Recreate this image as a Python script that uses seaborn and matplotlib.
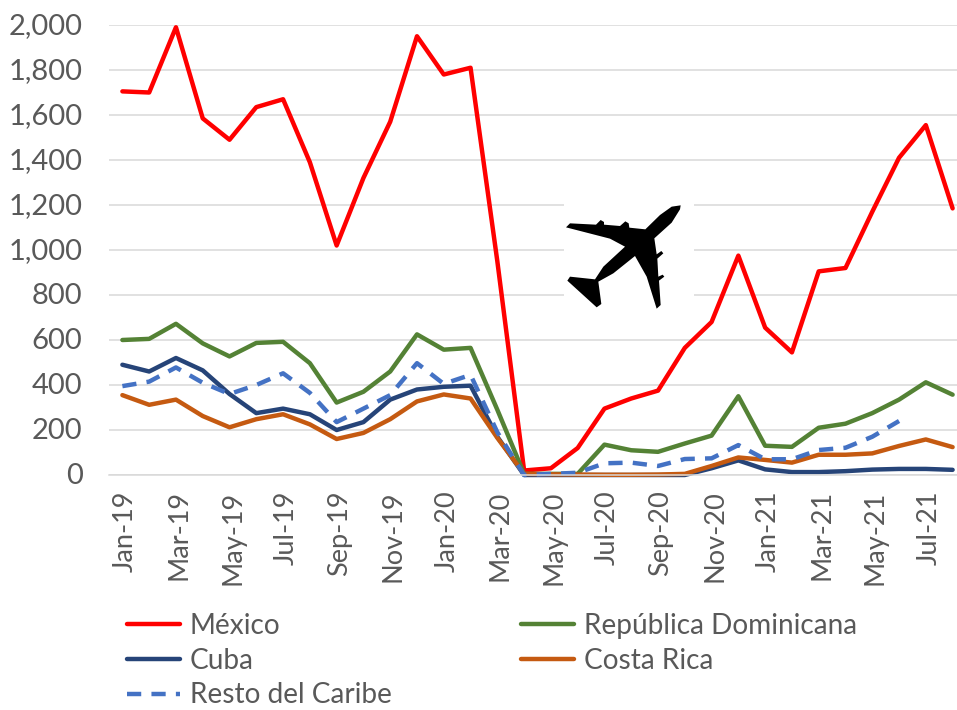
import matplotlib as mpl
mpl.use('Agg')
import matplotlib.pyplot as plt
from matplotlib.patches import PathPatch, Rectangle
from matplotlib.path import Path
from matplotlib.ticker import FuncFormatter
from matplotlib.transforms import ScaledTranslation
import seaborn as sns
import pandas as pd
import numpy as np

months = ['Jan-19', 'Feb-19', 'Mar-19', 'Apr-19', 'May-19', 'Jun-19', 'Jul-19', 'Aug-19', 'Sep-19', 'Oct-19', 'Nov-19', 'Dec-19',
          'Jan-20', 'Feb-20', 'Mar-20', 'Apr-20', 'May-20', 'Jun-20', 'Jul-20', 'Aug-20', 'Sep-20', 'Oct-20', 'Nov-20', 'Dec-20',
          'Jan-21', 'Feb-21', 'Mar-21', 'Apr-21', 'May-21', 'Jun-21', 'Jul-21', 'Aug-21']
mexico = [1705, 1700, 1990, 1585, 1490, 1635, 1670, 1390, 1020, 1320, 1570, 1950,
          1780, 1810, 950, 20, 30, 120, 295, 340, 375, 565, 680, 975,
          655, 545, 905, 920, 1170, 1410, 1555, 1185]
dominicana = [600, 605, 672, 585, 527, 587, 592, 497, 322, 370, 460, 625,
              557, 565, 290, 5, 5, 5, 135, 110, 103, 140, 175, 350,
              130, 125, 210, 228, 275, 335, 412, 357]
cuba = [490, 460, 520, 465, 360, 275, 295, 270, 200, 235, 335, 380,
        392, 397, 170, 0, 0, 0, 0, 0, 0, 0, 30, 65,
        25, 13, 13, 17, 24, 27, 27, 23]
costa_rica = [355, 312, 335, 262, 212, 248, 270, 225, 160, 187, 248, 327,
              358, 340, 165, 5, 3, 2, 1, 1, 2, 5, 40, 78,
              67, 55, 90, 90, 96, 129, 158, 124]
resto = [395, 415, 478, 410, 360, 400, 452, 365, 235, 295, 355, 497,
         405, 445, 190, 0, 5, 10, 52, 55, 40, 71, 74, 133,
         70, 70, 111, 121, 170, 240, np.nan, np.nan]
series_names = ['México', 'República Dominicana', 'Cuba', 'Costa Rica', 'Resto del Caribe']
y_ticks = [0, 200, 400, 600, 800, 1000, 1200, 1400, 1600, 1800, 2000]

colors = dict(zip(series_names, ['#FF0000', '#548235', '#264478', '#C55A11', '#4472C4']))
dashes = dict(zip(series_names, ['', '', '', '', (3.2, 2.3)]))

W, H = 957, 710

sns.set_style('white')
plt.rcParams['font.family'] = ['Lato', 'DejaVu Sans']

df = pd.DataFrame({'mes': range(len(months)), 'México': mexico, 'República Dominicana': dominicana,
                   'Cuba': cuba, 'Costa Rica': costa_rica, 'Resto del Caribe': resto})
df = df.melt(id_vars='mes', var_name='serie', value_name='valor').dropna()

fig = plt.figure(figsize=(W / 100, H / 100), dpi=100)
#axes run a bit past the right edge, like the cropped original
ax = fig.add_axes([109 / W, (H - 475) / H, (966 - 109) / W, 450 / H])

sns.lineplot(data=df, x='mes', y='valor', hue='serie', style='serie', hue_order=series_names, style_order=series_names,
             palette=colors, dashes=dashes, linewidth=3.2, ax=ax, legend=False, errorbar=None, clip_on=False)

ax.set_xlim(-0.5, len(months) - 0.5)
ax.set_ylim(0, 2000)
ax.set_xticks(range(0, len(months), 2))
ax.set_xticklabels(months[::2], rotation=90)
ax.set_yticks(y_ticks)
ax.yaxis.set_major_formatter(FuncFormatter(lambda v, p: f'{int(v):,}'))
ax.set_xlabel('')
ax.set_ylabel('')
ax.grid(axis='y', color='#D9D9D9', linewidth=1.1)
ax.set_axisbelow(True)
sns.despine(ax=ax, left=True, top=True, right=True)
ax.spines['bottom'].set_color('#D9D9D9')
ax.spines['bottom'].set_linewidth(1.1)
ax.tick_params(axis='both', length=0, labelcolor='#595959')
ax.tick_params(axis='x', pad=11, labelsize=19.5)
ax.tick_params(axis='y', pad=19, labelsize=21)

#nudge the tick labels a few pixels to sit like the original
for lab in ax.get_xticklabels():
    lab.set_transform(lab.get_transform() + ScaledTranslation(3 / 100, 0, fig.dpi_scale_trans))
for lab in ax.get_yticklabels():
    lab.set_transform(lab.get_transform() + ScaledTranslation(0, 1.5 / 100, fig.dpi_scale_trans))

#plane picture: white box + silhouette, traced in pixels of the image
def px(points):
    return [(x / W, 1 - y / H) for x, y in points]

def zoomed(points):
    return [(540 + x / 3, 190 + y / 3) for x, y in points]

box = Rectangle((564 / W, 1 - 320 / H), 130 / W, 130 / H, transform=fig.transFigure, facecolor='white', edgecolor='none', zorder=5)
fig.add_artist(box)

body = [(422, 46), (395, 50), (360, 75), (316, 118), (268, 113), (266, 100), (256, 94), (240, 108), (192, 104), (192, 96), (182, 90), (168, 104),
        (90, 100), (78, 112), (210, 146), (255, 170), (190, 230), (165, 268), (90, 260), (82, 272),
        (170, 352), (184, 342), (175, 275), (220, 250), (285, 198), (320, 260), (350, 356), (362, 345),
        (357, 272), (373, 260), (368, 254), (355, 260), (352, 206), (370, 190), (364, 183), (350, 193), (343, 145),
        (395, 98), (420, 58), (422, 46)]
codes = [Path.MOVETO] + [Path.LINETO] * (len(body) - 2) + [Path.CLOSEPOLY]
plane = PathPatch(Path(px(zoomed(body)), codes), transform=fig.transFigure, facecolor='black', edgecolor='none', zorder=6)
fig.add_artist(plane)

handles = [ax.lines[i] for i in (0, 2, 4, 1, 3)]
labels = [series_names[i] for i in (0, 2, 4, 1, 3)]
fig.legend(handles, labels, ncol=2, loc='upper left', bbox_to_anchor=(127 / W, 1 - 613 / H), frameon=False,
           fontsize=20.2, labelcolor='#595959', handlelength=1.89, handletextpad=0.35, columnspacing=4.6,
           labelspacing=0.31, borderpad=0, borderaxespad=0)

fig.savefig('out.png', dpi=100)
plt.close('all')
